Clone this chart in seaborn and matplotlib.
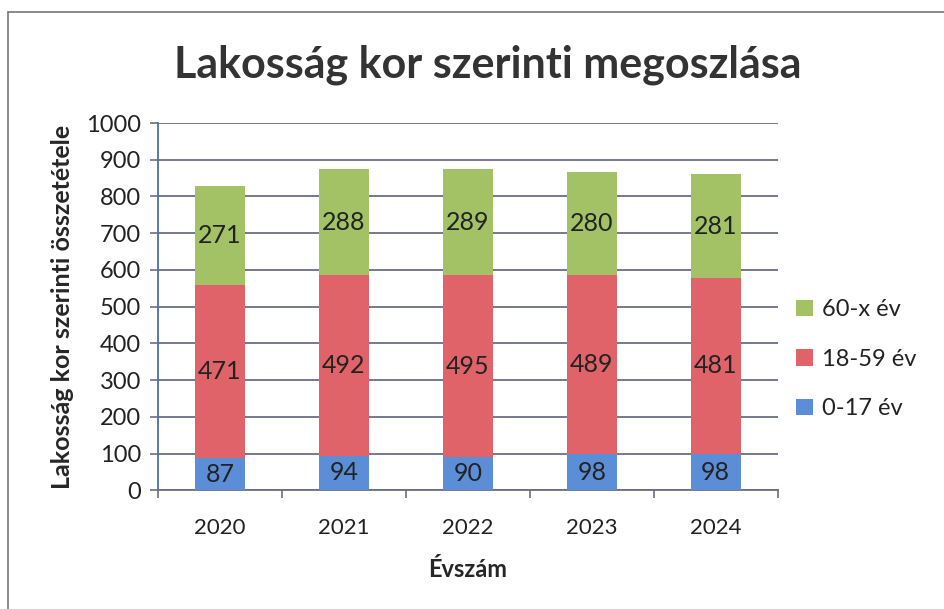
import numpy as np
import pandas as pd
import seaborn as sns
import matplotlib.pyplot as plt
from matplotlib.lines import Line2D
from matplotlib.patches import Patch

years = ['2020', '2021', '2022', '2023', '2024']
kor_0_17 = [87, 94, 90, 98, 98]
kor_18_59 = [471, 492, 495, 489, 481]
kor_60_x = [271, 288, 289, 280, 281]
labels = ['0-17 év', '18-59 év', '60-x év']
colors = ['#5b8ed6', '#e0636a', '#a3c266']

df = pd.DataFrame({'ev': years, '0-17 év': kor_0_17,
                   '18-59 év': kor_18_59, '60-x év': kor_60_x})

sns.set_style('white')
plt.rcParams['font.family'] = ['Lato', 'DejaVu Sans']
plt.rcParams['text.color'] = '#222222'

fig = plt.figure(figsize=(9.45, 6.09), dpi=100)
ax = fig.add_axes([0.167, 0.195, 0.656, 0.603])

bottom = np.zeros(len(years))
for lab, col in zip(labels, colors):
    sns.barplot(data=df, x='ev', y=lab, color=col, bottom=bottom, width=0.4,
                saturation=1, linewidth=0, ax=ax, zorder=3)
    for i, v in enumerate(df[lab]):
        ax.text(i, bottom[i] + v / 2, str(v), ha='center', va='center',
                fontsize=18, color='#222222', zorder=4)
    bottom = bottom + df[lab].values

ax.set_ylim(0, 1000)
ax.set_xlim(-0.5, 4.5)
ax.set_yticks(range(0, 1001, 100))
ax.yaxis.grid(True, color='#6b6e85', linewidth=1.3, zorder=0)
ax.set_axisbelow(True)
for s in ['top', 'right']:
    ax.spines[s].set_visible(False)
ax.spines['left'].set_color('#4a6fb0')
ax.spines['left'].set_linewidth(1.3)
ax.spines['bottom'].set_color('#6b6e85')
ax.spines['bottom'].set_linewidth(1.3)
ax.tick_params(axis='y', direction='out', length=6, width=1.2, color='#6b6e85',
               labelsize=17, pad=6, left=True, labelcolor='#222222')
ax.tick_params(axis='x', length=0, labelsize=16, pad=20, bottom=False,
               labelcolor='#222222')
# category boundary ticks on x axis
ax.set_xticks(np.arange(-0.5, 5, 1), minor=True)
ax.tick_params(axis='x', which='minor', direction='out', length=6, width=1.2,
               color='#6b6e85', bottom=True)

ax.set_xlabel('Évszám', fontsize=17, fontweight='bold')
ax.set_ylabel('Lakosság kor szerinti összetétele', fontsize=18,
              fontweight='bold')
ax.xaxis.set_label_coords(0.5, -0.185)
ax.yaxis.set_label_coords(-0.135, 0.5)

fig.text(0.516, 0.893, 'Lakosság kor szerinti megoszlása', ha='center',
         va='center', fontsize=31, fontweight='bold', color='#333333')

handles = [Patch(facecolor=c, edgecolor='none') for c in colors[::-1]]
fig.legend(handles, labels[::-1], loc='center left',
           bbox_to_anchor=(0.82, 0.41), frameon=False, fontsize=17,
           handlelength=0.7, handleheight=0.7, handletextpad=0.4,
           labelspacing=1.2)

fig.add_artist(Line2D([0.008, 1.0], [0.98, 0.98], color='#777777', lw=1.2))
fig.add_artist(Line2D([0.008, 0.008], [0.0, 0.98], color='#777777', lw=1.2))

fig.savefig('out.png', dpi=100)
